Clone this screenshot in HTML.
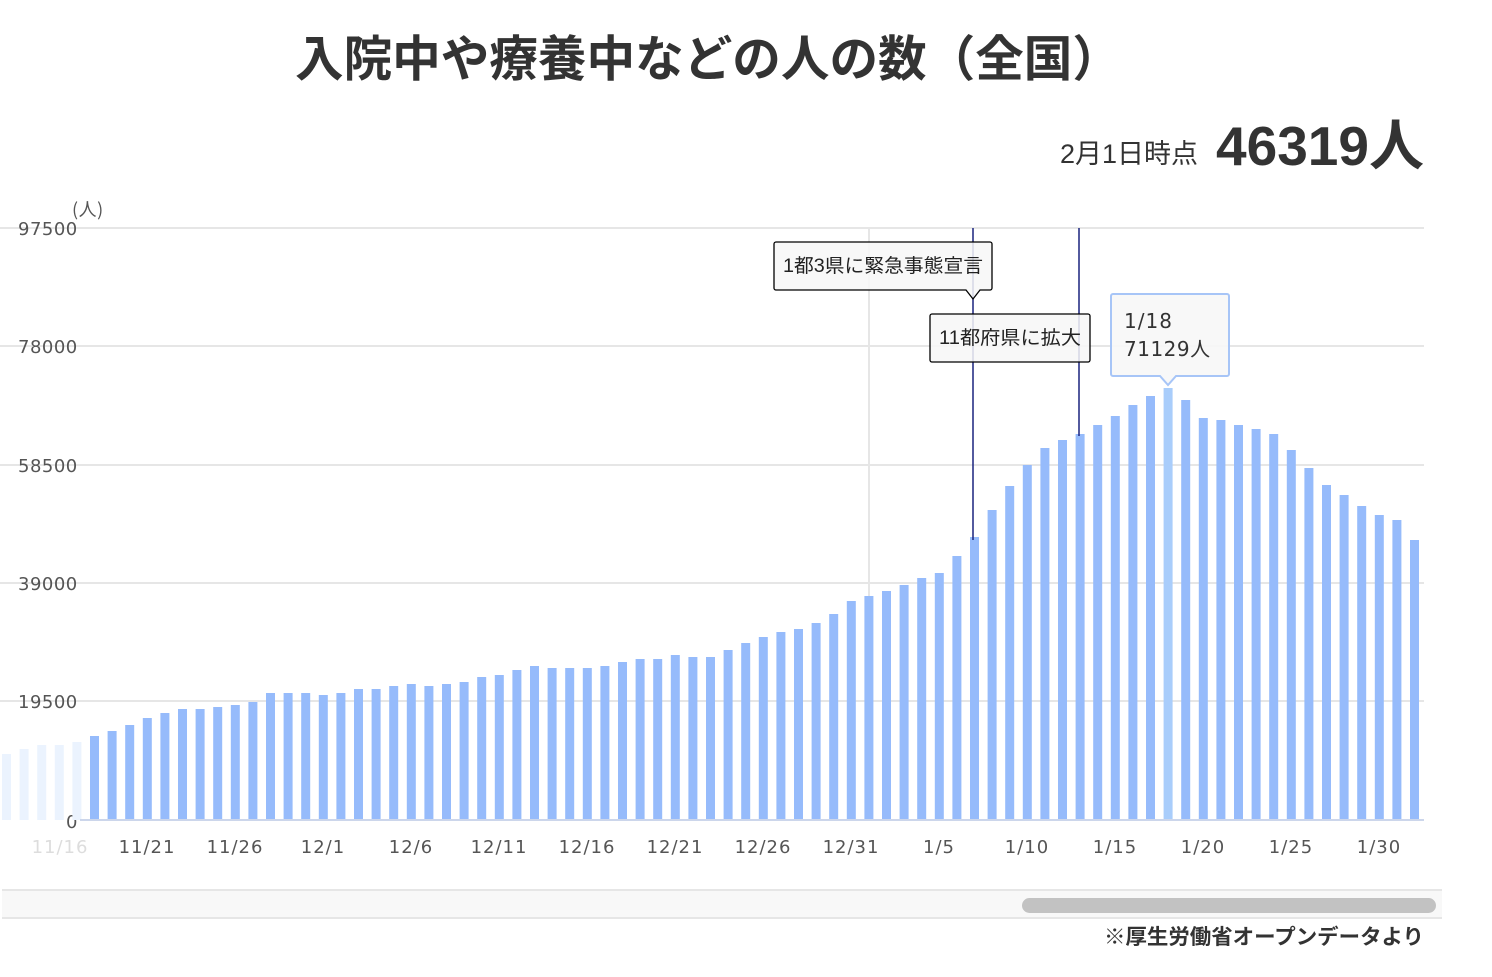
<!DOCTYPE html>
<html><head><meta charset="utf-8"><style>
body{margin:0;background:#fff;width:1492px;height:972px;overflow:hidden;font-family:"Liberation Sans","Noto Sans CJK JP",sans-serif}
</style></head><body>
<svg id="s" width="1492" height="972" xmlns="http://www.w3.org/2000/svg" font-family="Liberation Sans, Noto Sans CJK JP, sans-serif">
<text x="708" y="76" text-anchor="middle" font-size="49" font-weight="bold" fill="#333" textLength="826" lengthAdjust="spacingAndGlyphs">入院中や療養中などの人の数（全国）</text>
<text x="1198" y="163" text-anchor="end" font-size="27" fill="#333">2月1日時点</text>
<text x="1424" y="165" text-anchor="end" font-size="55" font-weight="bold" fill="#333">46319人</text>
<g stroke="#e6e6e6" stroke-width="2">
<line x1="0" y1="228" x2="1424" y2="228"/><line x1="0" y1="346" x2="1424" y2="346"/>
<line x1="0" y1="465" x2="1424" y2="465"/><line x1="0" y1="583" x2="1424" y2="583"/>
<line x1="0" y1="701" x2="1424" y2="701"/>
<line x1="869" y1="228" x2="869" y2="820"/>
</g>
<g font-size="18" fill="#555" font-family="DejaVu Sans, sans-serif" letter-spacing="0.5">
<text x="18" y="235">97500</text><text x="18" y="353">78000</text><text x="18" y="472">58500</text>
<text x="18" y="590">39000</text><text x="18" y="708">19500</text><text x="66" y="828">0</text>
<text x="72" y="216" font-size="18" font-family="Noto Sans CJK JP, sans-serif">(人)</text>
</g>
<g id="bars"></g>
<line x1="80" y1="820" x2="1424" y2="820" stroke="#ccd6eb" stroke-width="2"/>
<g font-size="18" fill="#555" text-anchor="middle" font-family="DejaVu Sans, sans-serif" letter-spacing="1">
<text x="60" y="853" fill="#ddd">11/16</text><text x="147" y="853">11/21</text><text x="235" y="853">11/26</text>
<text x="323" y="853">12/1</text><text x="411" y="853">12/6</text><text x="499" y="853">12/11</text>
<text x="587" y="853">12/16</text><text x="675" y="853">12/21</text><text x="763" y="853">12/26</text>
<text x="851" y="853">12/31</text><text x="939" y="853">1/5</text><text x="1027" y="853">1/10</text>
<text x="1115" y="853">1/15</text><text x="1203" y="853">1/20</text><text x="1291" y="853">1/25</text>
<text x="1379" y="853">1/30</text>
</g>
<line x1="973" y1="228" x2="973" y2="540" stroke="#1a237e" stroke-width="1.5"/>
<line x1="1079" y1="228" x2="1079" y2="436" stroke="#1a237e" stroke-width="1.5"/>
<path d="M776 242 H990 a2 2 0 0 1 2 2 V288 a2 2 0 0 1-2 2 H980 L973 299 L966 290 H776 a2 2 0 0 1-2-2 V244 a2 2 0 0 1 2-2Z" fill="rgba(247,247,247,0.85)" stroke="#000" stroke-width="1.3"/>
<text x="883" y="272" text-anchor="middle" font-size="19" fill="#222" textLength="200" lengthAdjust="spacingAndGlyphs">1都3県に緊急事態宣言</text>
<rect x="930" y="314" width="160" height="48" rx="2" fill="rgba(247,247,247,0.85)" stroke="#000" stroke-width="1.3"/>
<text x="1010" y="344" text-anchor="middle" font-size="19" fill="#222" textLength="142" lengthAdjust="spacingAndGlyphs">11都府県に拡大</text>
<path d="M1113 294 H1227 a2 2 0 0 1 2 2 V374 a2 2 0 0 1-2 2 H1176 L1168 385 L1160 376 H1113 a2 2 0 0 1-2-2 V296 a2 2 0 0 1 2-2Z" fill="rgba(247,247,247,0.9)" stroke="#a7c5f7" stroke-width="2"/>
<text x="1124" y="328" font-size="20" fill="#333" font-family="DejaVu Sans, sans-serif" letter-spacing="1">1/18</text>
<text x="1124" y="356" font-size="20" fill="#333" font-family="DejaVu Sans, Noto Sans CJK JP, sans-serif" letter-spacing="0.5">71129人</text>
<rect x="2" y="890" width="1440" height="28" fill="#f8f8f8"/>
<line x1="2" y1="890" x2="1442" y2="890" stroke="#e6e6e6" stroke-width="2"/>
<line x1="2" y1="918" x2="1442" y2="918" stroke="#e6e6e6" stroke-width="2"/>
<rect x="1022" y="898" width="414" height="15" rx="7.5" fill="#c2c2c2"/>
<text x="1424" y="944" text-anchor="end" font-size="21" font-weight="bold" fill="#333" textLength="320" lengthAdjust="spacingAndGlyphs">※厚生労働省オープンデータより</text>
</svg>
<script>
var tops=[754,749,745,745,742,736,731,725,718,713,709,709,707,705,702,693,693,693,695,693,689,689,686,684,686,684,682,677,675,670,666,668,668,668,666,662,659,659,655,657,657,650,643,637,632,629,623,614,601,596,591,585,578,573,556,537,510,486,465,448,440,434,425,416,405,396,388,400,418,420,425,429,434,450,468,485,495,506,515,520,540];
var g=document.getElementById('bars'),h='';
for(var i=0;i<tops.length;i++){var x=2+17.6*i;var c=i<5?'#ebf3fe':(i==66?'#a9cdfb':'#96bbfb');
h+='<rect x="'+x.toFixed(1)+'" y="'+tops[i]+'" width="9" height="'+(820-tops[i])+'" fill="'+c+'"/>';}
g.innerHTML=h;
</script>
</body></html>
